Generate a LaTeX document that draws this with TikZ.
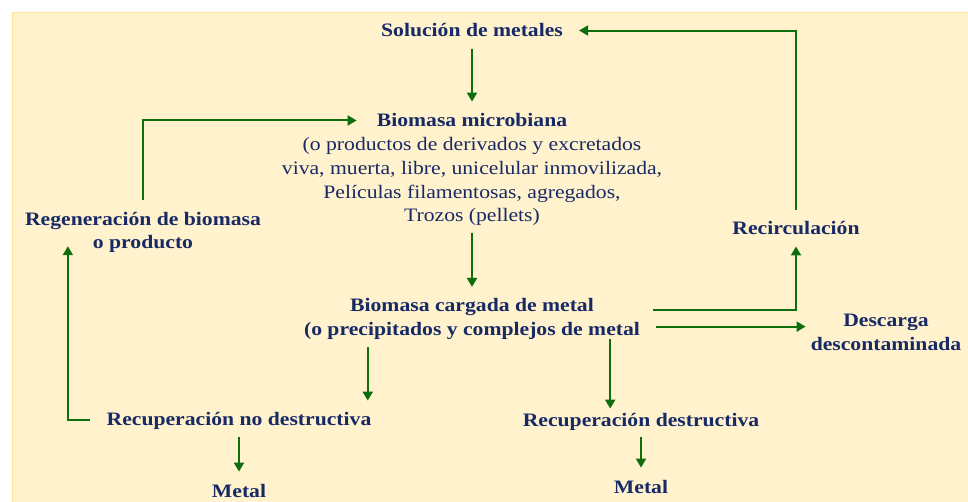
\documentclass[tikz,border=0pt]{standalone}
\usepackage{fontspec}
\setmainfont{Liberation Serif}[FakeStretch=1.14]
\usetikzlibrary{arrows.meta,calc}
\definecolor{fondo}{HTML}{FFF2CC}
\definecolor{borde}{HTML}{FFE699}
\definecolor{azul}{HTML}{172A66}
\definecolor{verde}{HTML}{0E6E0E}

\begin{document}
\begin{tikzpicture}[x=1pt,y=-1pt,
    tit/.style={font=\fontsize{19}{23.7}\selectfont\bfseries, text=azul, inner sep=0pt, align=center, anchor=base},
    txt/.style={font=\fontsize{19}{23.7}\selectfont, text=azul, inner sep=0pt, align=center, anchor=base},
    flecha/.style={draw=verde, line width=2pt, -{Triangle[length=9pt,width=10pt]}}]
    \useasboundingbox (0,0) rectangle (968,502);
    \fill[white] (0,0) rectangle (968,502);
    \draw[borde, fill=fondo, line width=1pt] (12.5,12.5) rectangle (980,515);
    % nodos (multilinea: base = ultima linea)
    \node[tit] (sol) at (472,37) {Solución de metales};
    \node[tit] (bio) at (472,127) {Biomasa microbiana};
    \node[txt] (desc) at (472,222) {(o productos de derivados y excretados\\viva, muerta, libre, unicelular inmovilizada,\\Películas filamentosas, agregados,\\Trozos (pellets)};
    \node[tit] (carga) at (472,335) {Biomasa cargada de metal\\(o precipitados y complejos de metal};
    \node[tit] (regen) at (143,249) {Regeneración de biomasa\\o producto};
    \node[tit] (recirc) at (796,235) {Recirculación};
    \node[tit] (descarga) at (886,350) {Descarga\\descontaminada};
    \node[tit] (recN) at (239,425) {Recuperación no destructiva};
    \node[tit] (recD) at (641,426) {Recuperación destructiva};
    \node[tit] (metN) at (239,497) {Metal};
    \node[tit] (metD) at (641,493) {Metal};
    \coordinate (c1) at ($(carga.south west)!.19!(carga.south east)$);
    \coordinate (c2) at ($(carga.south west)!.911!(carga.south east)$);
    % flechas
    \draw[flecha] ([yshift=-12pt]sol.south) -- ([yshift=12pt]bio.north);
    \draw[flecha] ([yshift=-7pt]desc.south) -- ([yshift=11pt]carga.north);
    \draw[flecha] ([yshift=12pt]regen.north) |- ([xshift=-20pt]bio.west);
    \draw[flecha] ([shift={(13pt,9pt)}]carga.east) -| ([yshift=-11pt]recirc.south);
    \draw[flecha] ([yshift=12pt]recirc.north) |- ([xshift=16pt]sol.east);
    \draw[flecha] ([shift={(16pt,-8pt)}]carga.east) coordinate (d0) -- ([xshift=-5pt]descarga.west |- d0);
    \draw[flecha] ([yshift=-8pt]c1) -- ([yshift=11pt]recN.north -| c1);
    \draw[flecha] (c2) -- ([yshift=4pt]recD.north -| c2);
    \draw[flecha] ([xshift=-16pt]recN.west) -| ([shift={(43pt,7pt)}]regen.south west);
    \draw[flecha] ([yshift=-8pt]recN.south) -- ([yshift=12pt]metN.north);
    \draw[flecha] ([yshift=-7pt]recD.south) -- ([yshift=12pt]metD.north);
\end{tikzpicture}
\end{document}
